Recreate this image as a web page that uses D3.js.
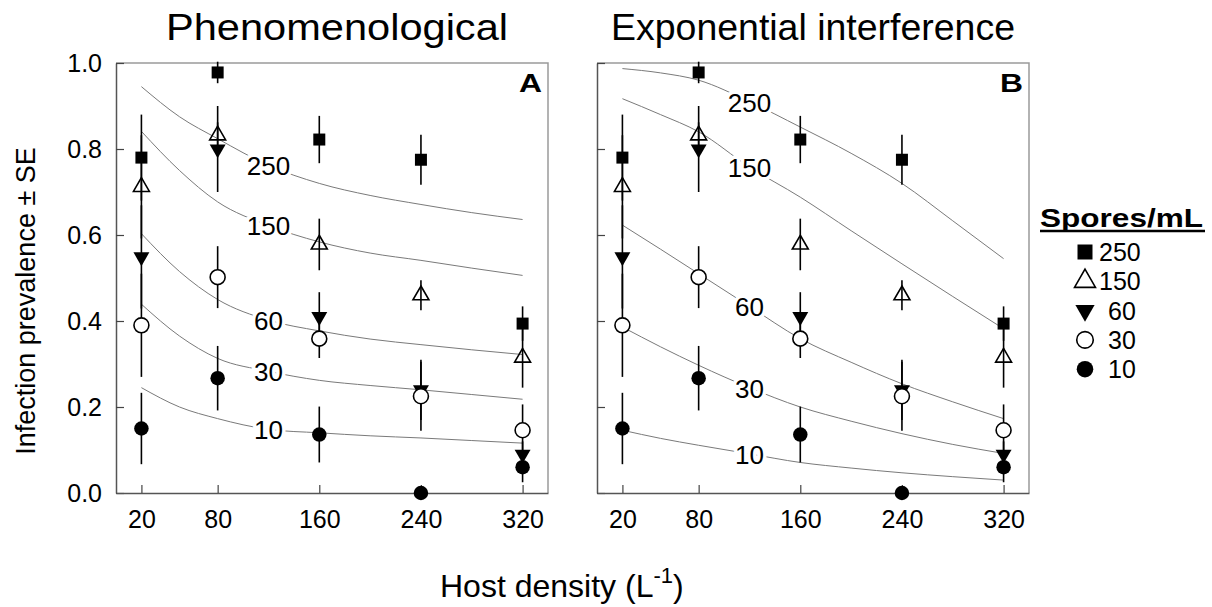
<!DOCTYPE html>
<html>
<head>
<meta charset="utf-8">
<script src="https://cdn.jsdelivr.net/npm/d3@7"></script>
<style>
  body { margin: 0; background: #fff; }
  text { font-family: "Liberation Sans", Arial, sans-serif; fill: #000; }
</style>
</head>
<body>
<svg id="chart" width="1212" height="607"></svg>
<script>
// observed prevalence (+/- SE) by host density, one list per spore dose
var hostDensity = [20, 80, 160, 240, 320];
var spores = ["250", "150", "60", "30", "10"];
var prev250 = [0.78, 0.978, 0.822, 0.775, 0.394], se250 = [0.10, 0.025, 0.055, 0.058, 0.04];
var prev150 = [0.712, 0.832, 0.578, 0.46, 0.315], se150 = [0.12, 0.03, 0.06, 0.035, 0.07];
var prev60  = [0.549, 0.80, 0.41, 0.24, 0.09],    se60  = [0.12, 0.10, 0.057, 0.07, 0.03];
var prev30  = [0.39, 0.502, 0.359, 0.225, 0.146], se30  = [0.12, 0.072, 0.045, 0.08, 0.06];
var prev10  = [0.15, 0.267, 0.136, 0.0, 0.06],    se10  = [0.083, 0.075, 0.065, 0, 0.035];

// fitted model curves
var fitDensity = [20, 50, 80, 120, 160, 200, 240, 280, 320];
var phenom250 = [0.945, 0.875, 0.824, 0.762, 0.72, 0.692, 0.671, 0.652, 0.636];
var phenom150 = [0.841, 0.75, 0.677, 0.622, 0.584, 0.558, 0.541, 0.523, 0.506];
var phenom60  = [0.603, 0.515, 0.45, 0.402, 0.377, 0.358, 0.345, 0.333, 0.322];
var phenom30  = [0.439, 0.365, 0.313, 0.283, 0.262, 0.25, 0.24, 0.229, 0.218];
var phenom10  = [0.245, 0.2, 0.173, 0.148, 0.14, 0.133, 0.128, 0.122, 0.116];
var expo250 = [0.987, 0.977, 0.96, 0.91, 0.851, 0.79, 0.72, 0.633, 0.545];
var expo150 = [0.917, 0.88, 0.84, 0.758, 0.688, 0.61, 0.533, 0.457, 0.382];
var expo60  = [0.623, 0.567, 0.51, 0.434, 0.359, 0.304, 0.254, 0.212, 0.173];
var expo30  = [0.386, 0.34, 0.297, 0.245, 0.2, 0.167, 0.138, 0.113, 0.092];
var expo10  = [0.146, 0.127, 0.111, 0.091, 0.071, 0.058, 0.047, 0.038, 0.03];

var yTicks = [0, 0.2, 0.4, 0.6, 0.8, 1.0];
var labelAt = 120; // density where the curve labels sit

var obs = [prev250, prev150, prev60, prev30, prev10];
var ses = [se250, se150, se60, se30, se10];
var kinds = ["square", "triangle", "invtriangle", "ring", "dot"];

var panels = [
  {title: "Phenomenological", letter: "A", left: 116, titleX: 337, titleW: 342,
   fits: [phenom250, phenom150, phenom60, phenom30, phenom10]},
  {title: "Exponential interference", letter: "B", left: 597, titleX: 813, titleW: 404,
   fits: [expo250, expo150, expo60, expo30, expo10]}
];

var W = 432, H = 430, top0 = 63;
var svg = d3.select("#chart");

var y = d3.scaleLinear().domain([0, 1]).range([H, 0]);

function symbolFor(kind, big) {
  var sz = {square: big ? 225 : 144, triangle: big ? 190 : 110, invtriangle: big ? 160 : 110,
            ring: big ? 215 : 175, dot: big ? 215 : 165}[kind];
  var type = kind == "square" ? d3.symbolSquare
           : (kind == "triangle" || kind == "invtriangle") ? d3.symbolTriangle
           : d3.symbolCircle;
  return d3.symbol().type(type).size(sz)();
}
function styleMarker(sel, kind) {
  var open = (kind == "triangle" || kind == "ring");
  sel.attr("fill", kind == "ring" ? "#fff" : (open ? "none" : "#000"))
     .attr("stroke", open ? "#000" : "none")
     .attr("stroke-width", 1.6);
}

panels.forEach(function(p, pi) {
  var x = d3.scaleLinear().domain([0, 340]).range([0, W]);
  var g = svg.append("g").attr("transform", "translate(" + p.left + "," + top0 + ")");

  // frame: light top/right
  g.append("path").attr("d", "M0,0H" + W + "V" + H)
    .attr("fill", "none").attr("stroke", "#9a9a9a").attr("stroke-width", 1.5);

  var ya = d3.axisLeft(y).tickValues(yTicks).tickSizeInner(-8).tickSizeOuter(0).tickPadding(14)
    .tickFormat(pi == 0 ? d3.format(".1f") : "");
  var yg = g.append("g").call(ya);
  var xa = d3.axisBottom(x).tickValues(hostDensity).tickSizeInner(-8).tickSizeOuter(0).tickPadding(17);
  var xg = g.append("g").attr("transform", "translate(0," + H + ")").call(xa);
  [yg, xg].forEach(function(a) {
    a.select(".domain").attr("stroke", "#555").attr("stroke-width", 1.5);
    a.selectAll(".tick line").attr("stroke", "#444").attr("stroke-width", 1.2);
    a.selectAll(".tick text").attr("font-size", 25).attr("font-family", "Liberation Sans, Arial, sans-serif").attr("fill", "#000");
  });

  // fitted curves
  var line = d3.line().x(function(d) { return x(d[0]); }).y(function(d) { return y(d[1]); })
    .curve(d3.curveMonotoneX);
  p.fits.forEach(function(f) {
    g.append("path").attr("d", line(d3.zip(fitDensity, f)))
      .attr("fill", "none").attr("stroke", "#7a7a7a").attr("stroke-width", 1);
  });
  // curve labels with white halo to break the line
  p.fits.forEach(function(f, i) {
    var v = f[fitDensity.indexOf(labelAt)];
    g.append("text").attr("x", x(labelAt)).attr("y", y(v)).attr("dy", "0.38em")
      .attr("text-anchor", "middle").attr("font-size", 26)
      .attr("stroke", "#fff").attr("stroke-width", 7).attr("paint-order", "stroke")
      .text(spores[i]);
  });

  // error bars then markers
  obs.forEach(function(vals, i) {
    g.selectAll(null).data(d3.zip(hostDensity, vals, ses[i])).enter()
      .append("line")
      .attr("x1", function(d) { return x(d[0]); }).attr("x2", function(d) { return x(d[0]); })
      .attr("y1", function(d) { return y(d[1] + d[2]); }).attr("y2", function(d) { return y(d[1] - d[2]); })
      .attr("stroke", "#000").attr("stroke-width", 1.6);
  });
  obs.forEach(function(vals, i) {
    g.selectAll(null).data(d3.zip(hostDensity, vals)).enter()
      .append("path")
      .attr("d", symbolFor(kinds[i], false))
      .attr("transform", function(d) {
        return "translate(" + x(d[0]) + "," + y(d[1]) + ")" + (kinds[i] == "invtriangle" ? " rotate(180)" : "");
      })
      .call(styleMarker, kinds[i]);
  });

  g.append("text").attr("x", W - 6).attr("y", 29).attr("text-anchor", "end")
    .attr("font-size", 26).attr("font-weight", "bold")
    .attr("textLength", 23).attr("lengthAdjust", "spacingAndGlyphs").text(p.letter);

  svg.append("text").attr("x", p.titleX).attr("y", 40).attr("text-anchor", "middle")
    .attr("font-size", 37).attr("textLength", p.titleW).attr("lengthAdjust", "spacingAndGlyphs")
    .text(p.title);
});

// axis titles
svg.append("text").attr("transform", "translate(35,301) rotate(-90)").attr("text-anchor", "middle")
  .attr("font-size", 27).text("Infection prevalence \u00b1 SE");
var xt = svg.append("text").attr("x", 440).attr("y", 597).attr("font-size", 32);
xt.append("tspan").text("Host density (L");
xt.append("tspan").attr("font-size", 22).attr("dy", -14).text("-1");
xt.append("tspan").attr("dy", 14).text(")");

// legend
var lg = svg.append("g");
lg.append("text").attr("x", 1040).attr("y", 227).attr("font-size", 26).attr("font-weight", "bold")
  .attr("textLength", 163).attr("lengthAdjust", "spacingAndGlyphs").text("Spores/mL");
lg.append("line").attr("x1", 1040).attr("x2", 1205).attr("y1", 231).attr("y2", 231)
  .attr("stroke", "#000").attr("stroke-width", 2.5);
spores.forEach(function(s, i) {
  var cy = 252 + i * 29.3;
  lg.append("path").attr("d", symbolFor(kinds[i], true))
    .attr("transform", "translate(1085," + cy + ")" + (kinds[i] == "invtriangle" ? " rotate(180)" : ""))
    .call(styleMarker, kinds[i]);
  lg.append("text").attr("x", s.length == 3 ? 1099 : 1108).attr("y", cy).attr("dy", "0.36em")
    .attr("font-size", 25).text(s);
});
</script>
</body>
</html>
